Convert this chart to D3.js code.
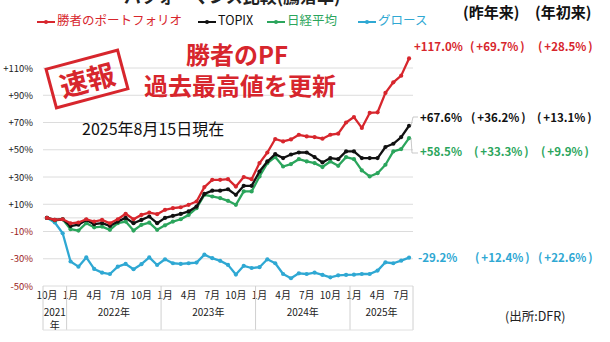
<!DOCTYPE html>
<html>
<head>
<meta charset="utf-8">
<script src="https://cdn.jsdelivr.net/npm/d3@7"></script>
<style>
  body { margin: 0; background: #fff; }
  svg { display: block; font-family: "Noto Sans CJK JP", "Noto Sans", sans-serif; }
</style>
</head>
<body>
<svg id="chart" width="610" height="342"></svg>
<script>
// months Oct 2021 .. Aug 2025 (one point per month)
var months = [];
for (var yr = 2021; yr <= 2025; yr++) {
  for (var mo = 1; mo <= 12; mo++) {
    if ((yr == 2021 && mo < 10) || (yr == 2025 && mo > 8)) continue;
    months.push(yr + "-" + mo);
  }
}

var winners = [0, -1.5, -1, -4, -3.4, -1, -2.7, -1.5, -4, -1, 3, -1, 2.2, 3.9, 2.7,
  5.9, 7.1, 7.8, 9.6, 12, 22.6, 27.9, 27.9, 28.4, 23, 30, 28.4,
  40.2, 48, 57.9, 56.1, 57.6, 61, 59.8, 59.3, 58.1, 61, 61.8, 70,
  74, 66, 77, 77.5, 91.7, 99.5, 104.4, 117.0];
var topix = [0, -1.5, -1, -6, -5, -1.5, -4.6, -3.9, -5.9, -2.7, 0, -3.9, -1.5, 1, -3.9,
  0, 1.5, 2.9, 4.7, 8.3, 17.6, 20, 20, 21, 16.9, 23.5, 23.5,
  34, 41.4, 46.8, 43.9, 46.5, 48, 48, 44.6, 40.7, 43.9, 43.1, 48.8,
  48.8, 43.9, 43.9, 43.9, 52, 54.4, 59.3, 67.6];
var nikkei = [0, -2, -1, -8.3, -9.3, -3.9, -6.9, -6.4, -8.8, -3.9, -2.7, -9.3, -5.1, -3.5, -8.8,
  -5.5, -2.7, -1, 2.2, 7.1, 16.9, 15.7, 14.5, 12.5, 9.6, 19.4, 19.4,
  30.4, 40.2, 44.6, 37.7, 39.5, 43.1, 41.4, 40.2, 37.3, 41.4, 38.2, 44.6,
  43.1, 34.8, 30.4, 32.8, 39, 48.8, 50.5, 58.5];
var growth = [0, -3.4, -11.3, -32, -35.8, -29, -37.5, -40.2, -41.2, -35.8, -33.8, -37.7, -34, -29, -34.6,
  -30.4, -33.3, -33.8, -33.3, -32.8, -27, -29.6, -31.5, -34.5, -41.6, -35.2, -36.8,
  -36.2, -30.4, -33.3, -41.2, -44.3, -40.7, -41.2, -40.2, -41.9, -43.6, -42.2, -41.9,
  -41.7, -41.2, -41.2, -38.7, -32.6, -33.3, -31.4, -29.2];

var yTicks = [110, 90, 70, 50, 30, 10, -10, -30, -50];
var seriesNames = ["勝者のポートフォリオ", "TOPIX", "日経平均", "グロース"];
var colors = ["#d7262d", "#111111", "#2ba55c", "#2fa8d3"];
// total since Oct 2021, since last year, year to date
var endLabels = [
  ["+117.0%", "+69.7%", "+28.5%"],
  ["+67.6%", "+36.2%", "+13.1%"],
  ["+58.5%", "+33.3%", "+9.9%"],
  ["-29.2%", "+12.4%", "+22.6%"]
];
var columnHeads = ["(昨年来)", "(年初来)"];

(function() {
var svg = d3.select("#chart");
var plotL = 43, plotR = 413, plotT = 68, plotB = 286;

var x = d3.scaleBand().domain(months).range([plotL, plotR]).padding(0);
var bw = x.bandwidth();
var cx = function(i) { return x(months[i]) + bw / 2; };
var yScale = d3.scaleLinear().domain([-50, 110]).range([plotB, plotT]);

// title (cut off at the top)
svg.append("text").attr("x", 124).attr("y", 3)
  .attr("font-size", 17).attr("font-weight", "bold").attr("fill", "#222")
  .text("パフォーマンス比較(騰落率)");

// grid
svg.append("g").selectAll("line").data(yTicks.concat([0])).join("line")
  .attr("x1", plotL).attr("x2", plotR)
  .attr("y1", d => yScale(d)).attr("y2", d => yScale(d))
  .attr("stroke", "#dcdcdc").attr("stroke-width", 1);

// y axis labels
var yAxis = d3.axisLeft(yScale).tickValues(yTicks).tickSize(0).tickPadding(10)
  .tickFormat(d => (d > 0 ? "+" : "") + d + "%");
var gy = svg.append("g").attr("transform", "translate(" + plotL + ",0)").call(yAxis);
gy.select(".domain").remove();
gy.selectAll("text").attr("font-size", 9.5)
  .attr("font-family", "Noto Sans CJK JP")
  .attr("fill", d => d < 0 ? "#9b1c1c" : "#222");

// x axis: month labels every 3 months
var xAxis = d3.axisBottom(x).tickSize(0).tickPadding(6)
  .tickValues(months.filter(d => (+d.split("-")[1] - 1) % 3 == 0))
  .tickFormat(d => d.split("-")[1] + "月");
var gx = svg.append("g").attr("transform", "translate(0," + plotB + ")").call(xAxis);
gx.select(".domain").remove();
gx.selectAll("text").attr("font-size", 10).attr("fill", "#222")
  .attr("font-family", "Noto Sans CJK JP");

// year groups
var years = d3.groups(months, d => d.split("-")[0]);
var bounds = [plotL];
years.forEach(function(g) {
  var last = g[1][g[1].length - 1];
  bounds.push(x(last) + bw);
});
svg.append("g").selectAll("line").data(bounds).join("line")
  .attr("x1", d => d).attr("x2", d => d)
  .attr("y1", plotB).attr("y2", 330)
  .attr("stroke", "#d0d0d0");
svg.append("line").attr("x1", plotL).attr("x2", plotR).attr("y1", 330).attr("y2", 330)
  .attr("stroke", "#e0e0e0");
years.forEach(function(g, k) {
  var mid = (bounds[k] + bounds[k + 1]) / 2;
  var t = svg.append("text").attr("x", mid).attr("y", 316)
    .attr("text-anchor", "middle").attr("font-size", 10).attr("fill", "#222");
  if (g[1].length < 6) {
    t.text(g[0]);
    svg.append("text").attr("x", mid).attr("y", 329).attr("text-anchor", "middle")
      .attr("font-size", 10).attr("fill", "#222").text("年");
  } else {
    t.text(g[0] + "年");
  }
});

// lines
var allSeries = [winners, topix, nikkei, growth];
var line = d3.line().x((d, i) => cx(i)).y(d => yScale(d));
[3, 2, 1, 0].forEach(function(k) {
  var s = allSeries[k];
  svg.append("path").datum(s).attr("d", line)
    .attr("fill", "none").attr("stroke", colors[k]).attr("stroke-width", 2.3)
    .attr("stroke-linejoin", "round");
  svg.append("g").selectAll("circle").data(s).join("circle")
    .attr("cx", (d, i) => cx(i)).attr("cy", d => yScale(d)).attr("r", 2.1)
    .attr("fill", colors[k]);
});

// leader lines for TOPIX / Nikkei labels
var lastI = months.length - 1;
svg.append("path")
  .attr("d", "M" + (cx(lastI) + 2) + "," + yScale(topix[lastI]) + " L413,117 L418,117")
  .attr("fill", "none").attr("stroke", "#bbb").attr("stroke-width", 0.8);
svg.append("path")
  .attr("d", "M" + (cx(lastI) + 2) + "," + yScale(nikkei[lastI]) + " L412,153 L418,153")
  .attr("fill", "none").attr("stroke", "#bbb").attr("stroke-width", 0.8);

// end labels
var labelY = [48, 119, 153, 259];
var colX = [[414, 470, 538], [420, 471, 537], [420, 474, 541], [418, 475, 538]];
endLabels.forEach(function(lab, k) {
  lab.forEach(function(t, j) {
    var txt = svg.append("text").attr("x", colX[k][j]).attr("y", labelY[k])
      .attr("dominant-baseline", "middle")
      .attr("font-size", 11.5).attr("font-weight", "bold")
      .attr("fill", colors[k]);
    if (j == 0) { txt.text(t); return; }
    txt.append("tspan").text("(");
    txt.append("tspan").attr("dx", 2).text(t);
    txt.append("tspan").attr("dx", 2).text(")");
  });
});
svg.selectAll(".head").data(columnHeads).join("text")
  .attr("x", (d, i) => i ? 535 : 463).attr("y", 18)
  .attr("font-size", 15).attr("font-weight", "bold").attr("fill", "#111")
  .text(d => d);

// legend
var legX = [37, 198, 267, 358];
seriesNames.forEach(function(n, k) {
  var g = svg.append("g").attr("transform", "translate(" + legX[k] + ",22)");
  g.append("line").attr("x1", 0).attr("x2", 18).attr("stroke", colors[k]).attr("stroke-width", 2);
  g.append("circle").attr("cx", 9).attr("r", 2).attr("fill", colors[k]);
  g.append("text").attr("x", 20).attr("y", 0).attr("dominant-baseline", "middle")
    .attr("font-size", 12.5).attr("fill", colors[k]).text(n);
});

// stamp
var st = svg.append("g").attr("transform", "translate(87,79) rotate(-15)");
st.append("rect").attr("x", -37).attr("y", -20).attr("width", 74).attr("height", 40)
  .attr("fill", "none").attr("stroke", "#d7262d").attr("stroke-width", 3);
st.append("text").attr("text-anchor", "middle").attr("dominant-baseline", "central")
  .attr("font-size", 28).attr("font-weight", "bold").attr("fill", "#d7262d").text("速報");

// headline
svg.append("text").attr("x", 237).attr("y", 57).attr("text-anchor", "middle")
  .attr("dominant-baseline", "middle")
  .attr("font-size", 24).attr("font-weight", "bold").attr("fill", "#d7262d").text("勝者のPF");
svg.append("text").attr("x", 240).attr("y", 88).attr("text-anchor", "middle")
  .attr("dominant-baseline", "middle")
  .attr("font-size", 24).attr("font-weight", "bold").attr("fill", "#d7262d").text("過去最高値を更新");

svg.append("text").attr("x", 82).attr("y", 131).attr("dominant-baseline", "middle")
  .attr("font-size", 16).attr("fill", "#111").text("2025年8月15日現在");

svg.append("text").attr("x", 505).attr("y", 318).attr("dominant-baseline", "middle")
  .attr("font-size", 12.5).attr("fill", "#222").text("(出所:DFR)");
})();
</script>
</body>
</html>
